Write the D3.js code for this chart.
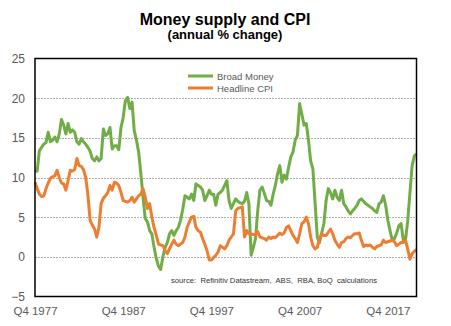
<!DOCTYPE html>
<html>
<head>
<meta charset="utf-8">
<script src="https://cdn.jsdelivr.net/npm/d3@7/dist/d3.min.js"></script>
<style>
  body { margin: 0; background: #fff; }
  svg { display: block; font-family: "Liberation Sans", Arial, sans-serif; }
</style>
</head>
<body>
<svg id="chart" width="451" height="326"></svg>
<script>
// quarterly data, starting Q4 1977
const startYear = 1977;
const startQuarter = 4;

// Broad money, annual % change
const broadMoney = [
  10.8, 10.8, 13.4, 13.8, 14.2, 14.4, 15.7, 14.5, 14.7, 15.1,
  14.5, 15.5, 17.3, 16.6, 15.5, 16.8, 15.7, 16.0, 15.7, 14.5,
  14.2, 14.9, 14.5, 14.2, 13.8, 13.3, 12.4, 12.1, 12.6, 12.1,
  12.4, 16.1, 15.3, 15.5, 16.3, 13.6, 14.0, 14.0, 13.5, 16.3,
  17.6, 19.7, 20.1, 18.7, 19.5, 15.9, 14.7, 13.2, 10.5, 7.5,
  4.8, 4.4, 3.3, 2.9, 1.2, -0.2, -1.2, -1.6, 0.0, 1.2,
  1.8, 2.9, 3.3, 2.7, 3.3, 3.7, 4.6, 6.0, 7.7, 7.5,
  7.3, 7.9, 7.1, 9.2, 9.0, 8.8, 8.4, 7.1, 7.7, 8.4,
  7.9, 7.9, 6.5, 7.9, 8.1, 8.4, 9.0, 9.6, 7.1, 6.1,
  6.7, 7.3, 7.0, 6.8, 6.7, 7.0, 8.1, 6.7, 0.2, 1.2,
  2.3, 5.8, 8.4, 8.8, 8.0, 7.1, 7.0, 6.5, 7.9, 9.0,
  10.5, 11.5, 9.4, 10.3, 9.8, 11.3, 12.6, 13.2, 14.7, 15.3,
  19.3, 18.0, 16.6, 16.8, 14.7, 12.1, 11.1, 6.8, 2.5, 1.8,
  3.0, 4.2, 7.1, 8.6, 8.1, 7.3, 8.4, 7.5, 7.1, 8.4,
  6.7, 6.3, 5.8, 5.4, 5.8, 6.1, 6.5, 7.1, 7.3, 7.0,
  6.7, 6.5, 6.3, 6.1, 5.8, 5.6, 6.7, 6.9, 7.7, 6.5,
  4.6, 3.3, 2.1, 2.3, 3.0, 3.9, 4.2, 2.1, 2.1, 4.5,
  8.0, 11.5, 12.7, 13.0
];

// Headline CPI, annual % change
const headlineCpi = [
  9.4, 8.6, 7.9, 7.6, 7.7, 8.6, 9.3, 9.9, 10.1, 10.2,
  10.9, 10.0, 9.3, 9.2, 8.4, 9.6, 10.9, 10.8, 11.0, 12.4,
  11.5, 11.4, 11.0, 10.0, 7.8, 4.6, 4.0, 3.5, 2.5, 3.7,
  6.7, 7.4, 7.7, 8.1, 9.0, 8.4, 9.4, 9.3, 9.0, 8.1,
  7.1, 7.0, 6.9, 7.1, 7.5, 6.9, 7.3, 7.7, 7.9, 8.6,
  7.5, 6.1, 6.7, 5.0, 3.7, 2.7, 1.6, 1.5, 1.4, 0.8,
  0.4, 1.0, 1.6, 2.1, 1.6, 1.4, 1.6, 1.8, 2.5, 3.7,
  4.4, 5.0, 5.1, 3.7, 3.3, 3.1, 2.3, 1.6, 0.8, -0.4,
  -0.4, -0.1, 0.2, 0.6, 1.4, 1.2, 1.0, 1.4, 2.1, 2.5,
  2.9, 5.8, 6.1, 6.2, 6.3, 2.5, 3.3, 2.9, 2.9, 2.8,
  2.8, 3.2, 2.5, 2.4, 2.3, 2.1, 2.5, 2.3, 2.5, 2.4,
  2.7, 3.0, 2.8, 3.0, 3.7, 3.9, 3.3, 2.7, 2.3, 1.8,
  2.9, 4.2, 4.4, 5.0, 4.2, 2.5, 1.4, 1.0, 1.2, 2.3,
  2.9, 2.7, 2.7, 3.1, 3.5, 2.9, 2.1, 1.6, 1.2, 1.8,
  1.9, 2.3, 2.5, 2.4, 2.7, 2.9, 2.9, 3.0, 2.1, 1.3,
  1.5, 1.4, 1.5, 1.2, 1.0, 1.3, 1.4, 1.5, 2.1, 1.8,
  1.9, 2.0, 2.1, 1.9, 1.4, 1.6, 1.8, 1.8, 2.1, 1.0,
  -0.3, 0.4, 0.7, 0.9
];

const yTicks = [-5, 0, 5, 10, 15, 20, 25];
const xTickLabels = ['Q4 1977', 'Q4 1987', 'Q4 1997', 'Q4 2007', 'Q4 2017'];

const seriesNames = ['Broad Money', 'Headline CPI'];
const seriesColors = ['#70ad47', '#ed7d31'];

const svg = d3.select('#chart');
const margin = { left: 35, right: 34.5, top: 58.5, bottom: 29.5 };
const width = 451, height = 326;

// quarter index -> date (end month of quarter)
function quarterDate(i) {
    const q0 = startYear * 4 + (startQuarter - 1) + i;
    const y = Math.floor(q0 / 4);
    const q = q0 % 4;
    return new Date(y, q * 3 + 2, 1);
}

const n = broadMoney.length;
const x = d3.scaleTime()
    .domain([quarterDate(0), quarterDate(n - 1)])
    .range([margin.left, width - margin.right]);

const y = d3.scaleLinear()
    .domain([-5, 25])
    .range([height - margin.bottom, margin.top]);

// titles
svg.append('text')
    .attr('x', 225).attr('y', 25)
    .attr('text-anchor', 'middle')
    .attr('font-size', '16px').attr('font-weight', 'bold')
    .attr('fill', '#000')
    .text('Money supply and CPI');

svg.append('text')
    .attr('x', 225).attr('y', 39)
    .attr('text-anchor', 'middle')
    .attr('font-size', '13px').attr('font-weight', 'bold')
    .attr('fill', '#000')
    .text('(annual % change)');

// gridlines
svg.append('g')
    .selectAll('line')
    .data(yTicks.filter(d => d > -5 && d < 25))
    .join('line')
    .attr('x1', margin.left).attr('x2', width - margin.right)
    .attr('y1', d => Math.round(y(d)) + 0.5).attr('y2', d => Math.round(y(d)) + 0.5)
    .attr('stroke', '#b0b0b0')
    .attr('stroke-dasharray', '2,1');

// y axis labels
const yAxis = d3.axisLeft(y).tickValues(yTicks).tickSize(0).tickPadding(10);
const gy = svg.append('g')
    .attr('transform', `translate(${margin.left},0)`)
    .call(yAxis);
gy.select('.domain').remove();
gy.selectAll('text')
    .attr('font-size', '12px')
    .attr('font-family', '"Liberation Sans", Arial, sans-serif')
    .attr('fill', '#595959');

// x axis labels
const xTickDates = xTickLabels.map((d, i) => quarterDate(i * 40));
const xAxis = d3.axisBottom(x)
    .tickValues(xTickDates)
    .tickSize(0).tickPadding(10)
    .tickFormat((d, i) => xTickLabels[i]);
const gx = svg.append('g')
    .attr('transform', `translate(0,${height - margin.bottom})`)
    .call(xAxis);
gx.select('.domain').remove();
gx.selectAll('text')
    .attr('font-size', '11.5px')
    .attr('font-family', '"Liberation Sans", Arial, sans-serif')
    .attr('fill', '#595959');

// lines
const line = d3.line()
    .x((d, i) => x(quarterDate(i)))
    .y(d => y(d));

[broadMoney, headlineCpi].forEach((series, k) => {
    svg.append('path')
        .datum(series)
        .attr('fill', 'none')
        .attr('stroke', seriesColors[k])
        .attr('stroke-width', 3)
        .attr('stroke-linejoin', 'round')
        .attr('d', line);
});

// plot border
svg.append('rect')
    .attr('x', margin.left).attr('y', margin.top)
    .attr('width', width - margin.left - margin.right)
    .attr('height', height - margin.top - margin.bottom)
    .attr('fill', 'none')
    .attr('stroke', '#000')
    .attr('stroke-width', 1.5);

// legend
const legend = svg.append('g').attr('transform', 'translate(188,76)');
seriesNames.forEach((name, i) => {
    legend.append('line')
        .attr('x1', 0).attr('x2', 25)
        .attr('y1', i * 12).attr('y2', i * 12)
        .attr('stroke', seriesColors[i])
        .attr('stroke-width', 3);
    legend.append('text')
        .attr('x', 29).attr('y', i * 12 + 3.5)
        .attr('font-size', '9.5px')
        .attr('fill', '#595959')
        .text(name);
});

// source note
svg.append('text')
    .attr('x', 171).attr('y', 283)
    .attr('font-size', '8px')
    .attr('fill', '#333')
    .attr('textLength', 206)
    .attr('lengthAdjust', 'spacingAndGlyphs')
    .attr('xml:space', 'preserve')
    .text('source:  Refinitiv Datastream,  ABS,  RBA, BoQ  calculations');
</script>
</body>
</html>
